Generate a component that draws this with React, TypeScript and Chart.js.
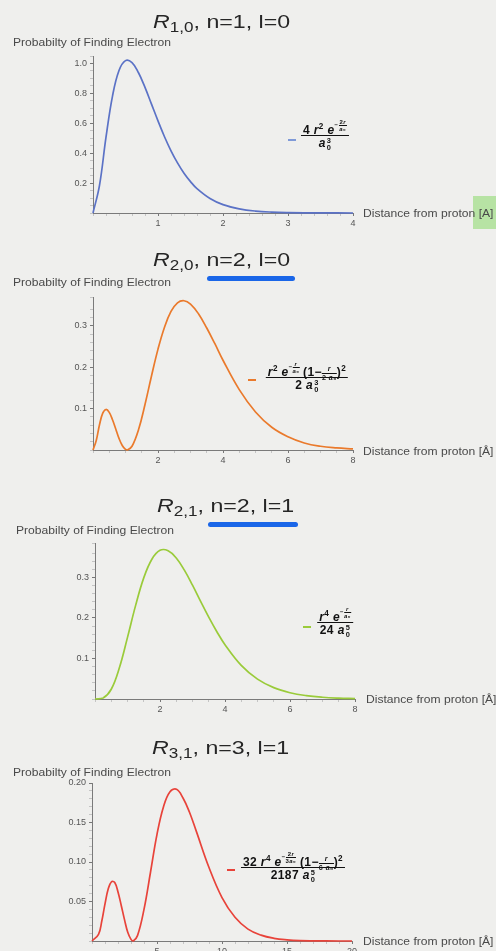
import React, { useEffect, useRef } from 'react';
import { Chart, registerables } from 'chart.js';

Chart.register(...registerables);

// ---------- data ----------
const R1 = [0, 0.1, 0.2, 0.3, 0.4, 0.5, 0.6, 0.7, 0.8, 0.9, 1.0, 1.1, 1.2, 1.3, 1.4, 1.5, 1.6, 1.8, 2.0, 2.25, 2.5, 2.75, 3.0, 3.5, 4.0];
const P1 = [0, 0.185, 0.507, 0.782, 0.953, 1.019, 1.006, 0.938, 0.84, 0.728, 0.616, 0.51, 0.416, 0.335, 0.266, 0.21, 0.163, 0.097, 0.056, 0.028, 0.013, 0.006, 0.003, 0.0006, 0.0001];

const R2 = [0, 0.1, 0.2, 0.3, 0.4, 0.5, 0.6, 0.7, 0.8, 0.9, 1.0, 1.06, 1.2, 1.4, 1.6, 1.8, 2.0, 2.2, 2.4, 2.6, 2.8, 3.0, 3.25, 3.5, 3.75, 4.0, 4.5, 5.0, 5.5, 6.0, 6.5, 7.0, 7.5, 8.0];
const P2 = [0, 0.023, 0.061, 0.089, 0.098, 0.091, 0.073, 0.051, 0.028, 0.011, 0.0015, 0, 0.009, 0.049, 0.11, 0.179, 0.244, 0.297, 0.335, 0.356, 0.361, 0.353, 0.329, 0.295, 0.257, 0.217, 0.146, 0.092, 0.055, 0.032, 0.017, 0.009, 0.005, 0.0025];

const R3 = [0, 0.25, 0.5, 0.75, 1.0, 1.25, 1.5, 1.75, 2.0, 2.25, 2.5, 2.75, 3.0, 3.25, 3.5, 3.75, 4.0, 4.5, 5.0, 5.5, 6.0, 6.5, 7.0, 7.5, 8.0];
const P3 = [0, 0.0024, 0.024, 0.077, 0.152, 0.231, 0.299, 0.345, 0.367, 0.366, 0.348, 0.318, 0.281, 0.241, 0.202, 0.166, 0.134, 0.083, 0.049, 0.028, 0.0155, 0.0083, 0.0043, 0.0022, 0.0011];

const R4 = [0, 0.5, 0.75, 1.0, 1.25, 1.5, 1.75, 2.0, 2.25, 2.5, 2.75, 3.0, 3.17, 3.5, 4, 4.5, 5, 5.5, 6, 6.5, 7, 7.5, 8, 9, 10, 11, 12, 13, 14, 15, 16, 18, 20];
const P4 = [0, 0.0084, 0.025, 0.047, 0.066, 0.075, 0.074, 0.062, 0.045, 0.027, 0.011, 0.002, 0, 0.0068, 0.04, 0.087, 0.135, 0.17, 0.189, 0.192, 0.181, 0.163, 0.14, 0.093, 0.055, 0.03, 0.015, 0.0074, 0.0034, 0.0015, 0.0006, 0.0001, 0];

const X1_TICKS = [1, 2, 3, 4];
const X1_LABELS = ['1', '2', '3', '4'];
const Y1_TICKS = [0.2, 0.4, 0.6, 0.8, 1.0];
const Y1_LABELS = ['0.2', '0.4', '0.6', '0.8', '1.0'];

const X2_TICKS = [2, 4, 6, 8];
const X2_LABELS = ['2', '4', '6', '8'];
const Y2_TICKS = [0.1, 0.2, 0.3];
const Y2_LABELS = ['0.1', '0.2', '0.3'];

const X3_TICKS = [2, 4, 6, 8];
const X3_LABELS = ['2', '4', '6', '8'];
const Y3_TICKS = [0.1, 0.2, 0.3];
const Y3_LABELS = ['0.1', '0.2', '0.3'];

const X4_TICKS = [5, 10, 15, 20];
const X4_LABELS = ['5', '10', '15', '20'];
const Y4_TICKS = [0.05, 0.1, 0.15, 0.2];
const Y4_LABELS = ['0.05', '0.10', '0.15', '0.20'];

const SUBSCRIPTS = ['1,0', '2,0', '2,1', '3,1'];
const QUANTUM = [', n=1, l=0', ', n=2, l=0', ', n=2, l=1', ', n=3, l=1'];
const Y_TITLE = 'Probabilty of Finding Electron';
const X_TITLES = ['Distance from proton [A]', 'Distance from proton [Å]', 'Distance from proton [Å]', 'Distance from proton [Å]'];

// ---------- layout ----------
const SANS = '"Liberation Sans", Arial, Helvetica, sans-serif';

type Spec = {
  top: number; h: number; yAxisW: number; padRight: number; padTop: number; xAxisH: number;
  xMax: number; yMax: number; xMinor: number; yMinor: number; color: string;
  r: number[]; p: number[]; xt: number[]; xl: string[]; yt: number[]; yl: string[];
};

const SPECS: Spec[] = [
  { top: 0, h: 240, yAxisW: 93, padRight: 143, padTop: 56, xAxisH: 27, xMax: 4, yMax: 1.05, xMinor: 0.2, yMinor: 0.05, color: '#5b72c6', r: R1, p: P1, xt: X1_TICKS, xl: X1_LABELS, yt: Y1_TICKS, yl: Y1_LABELS },
  { top: 240, h: 240, yAxisW: 93, padRight: 143, padTop: 57, xAxisH: 30, xMax: 8, yMax: 0.37, xMinor: 0.5, yMinor: 0.02, color: '#ea7a2c', r: R2, p: P2, xt: X2_TICKS, xl: X2_LABELS, yt: Y2_TICKS, yl: Y2_LABELS },
  { top: 480, h: 240, yAxisW: 95, padRight: 141, padTop: 63, xAxisH: 21, xMax: 8, yMax: 0.385, xMinor: 0.5, yMinor: 0.02, color: '#9acb3a', r: R3, p: P3, xt: X3_TICKS, xl: X3_LABELS, yt: Y3_TICKS, yl: Y3_LABELS },
  { top: 720, h: 231, yAxisW: 92, padRight: 144, padTop: 63, xAxisH: 10, xMax: 20, yMax: 0.2, xMinor: 1, yMinor: 0.01, color: '#e8433a', r: R4, p: P4, xt: X4_TICKS, xl: X4_LABELS, yt: Y4_TICKS, yl: Y4_LABELS },
];

const find = (v: number, ticks: number[]) => ticks.findIndex((t) => Math.abs(t - v) < 1e-7);

function makeConfig(s: Spec): any {
  const tickFont = { family: SANS, size: 9 };
  return {
    type: 'line',
    data: {
      datasets: [{
        data: s.r.map((x, i) => ({ x, y: s.p[i] })),
        borderColor: s.color,
        borderWidth: 1.7,
        pointRadius: 0,
        tension: 0.4,
        fill: false,
        clip: 3,
      }],
    },
    options: {
      animation: false,
      responsive: false,
      maintainAspectRatio: false,
      layout: { padding: { left: 0, right: s.padRight, top: s.padTop, bottom: 0 } },
      plugins: { legend: { display: false }, tooltip: { enabled: false }, title: { display: false } },
      scales: {
        x: {
          type: 'linear', min: 0, max: s.xMax,
          afterFit: (sc: any) => { sc.height = s.xAxisH; },
          ticks: {
            stepSize: s.xMinor, autoSkip: false, maxRotation: 0, padding: 2,
            font: tickFont, color: '#555',
            callback: (v: number) => { const i = find(v, s.xt); return i >= 0 ? s.xl[i] : ''; },
          },
          grid: {
            drawOnChartArea: false, drawTicks: true, tickLength: 3,
            color: (ctx: any) => (ctx.tick && find(ctx.tick.value, s.xt) >= 0 ? '#777' : '#c4c4c4'),
          },
          border: { display: true, color: '#7a7a7a', width: 1 },
        },
        y: {
          type: 'linear', min: 0, max: s.yMax,
          afterFit: (sc: any) => { sc.width = s.yAxisW; },
          ticks: {
            stepSize: s.yMinor, autoSkip: false, padding: 3,
            font: tickFont, color: '#555',
            callback: (v: number) => { const i = find(v, s.yt); return i >= 0 ? s.yl[i] : ''; },
          },
          grid: {
            drawOnChartArea: false, drawTicks: true, tickLength: 3,
            color: (ctx: any) => (ctx.tick && find(ctx.tick.value, s.yt) >= 0 ? '#777' : '#c4c4c4'),
          },
          border: { display: true, color: '#7a7a7a', width: 1 },
        },
      },
    },
  };
}

function PanelChart({ spec }: { spec: Spec }) {
  const ref = useRef<HTMLCanvasElement>(null);
  useEffect(() => {
    const chart = new Chart(ref.current as HTMLCanvasElement, makeConfig(spec));
    return () => chart.destroy();
  }, [spec]);
  return (
    <canvas
      ref={ref}
      width={496}
      height={spec.h}
      style={{ position: 'absolute', left: 0, top: spec.top, width: 496, height: spec.h }}
    />
  );
}

// ---------- math helpers ----------
const Sup = ({ children }: any) => (
  <span style={{ fontSize: '0.68em', verticalAlign: '0.55em', lineHeight: 0 }}>{children}</span>
);
const SubSup = ({ sup, sub }: any) => (
  <span style={{ display: 'inline-block', fontSize: '0.62em', lineHeight: '0.95em', verticalAlign: '-0.4em', textAlign: 'left', marginLeft: 1 }}>
    {sup}<br />{sub}
  </span>
);
const TinyFrac = ({ n, d }: any) => (
  <span style={{ display: 'inline-block', textAlign: 'center', lineHeight: '1em', verticalAlign: 'middle' }}>
    <span style={{ display: 'block', borderBottom: '0.6px solid #111', padding: '0 1px' }}>{n}</span>
    <span style={{ display: 'block' }}>{d}</span>
  </span>
);
const Exp = ({ children }: any) => (
  <span style={{ fontSize: '0.5em', verticalAlign: '1.1em', lineHeight: 0 }}>{children}</span>
);
const InFrac = ({ n, d }: any) => (
  <span style={{ fontSize: '0.6em', lineHeight: 0, display: 'inline-block', verticalAlign: '0.1em' }}>
    <TinyFrac n={n} d={d} />
  </span>
);

function Legend({ cx, barY, dashX, dashY, color, num, den }: any) {
  return (
    <>
      <div style={{ position: 'absolute', left: dashX, top: dashY - 1, width: 8, height: 2, background: color }} />
      <div
        style={{
          position: 'absolute', left: cx, top: barY - 16, transform: 'translateX(-50%)',
          font: `bold 12px ${SANS}`, color: '#111', textAlign: 'center', letterSpacing: 0.4,
        }}
      >
        <div style={{ height: 16, lineHeight: '18px', whiteSpace: 'nowrap', padding: '0 2px' }}>{num}</div>
        <div style={{ height: 0, borderTop: '1.3px solid #111' }} />
        <div style={{ height: 15, lineHeight: '15px', whiteSpace: 'nowrap' }}>{den}</div>
      </div>
    </>
  );
}

const I = ({ children }: any) => <i>{children}</i>;

const LEGENDS = [
  {
    cx: 325, barY: 135, dashX: 288, dashY: 140, color: '#7f9ad8',
    num: <>4 <I>r</I><Sup>2</Sup> <I>e</I><Exp>−<TinyFrac n={<>2<I>r</I></>} d={<><I>a</I>₀</>} /></Exp></>,
    den: <><I>a</I><SubSup sup="3" sub="0" /></>,
  },
  {
    cx: 307, barY: 377, dashX: 248, dashY: 380, color: '#ea7a2c',
    num: <><I>r</I><Sup>2</Sup> <I>e</I><Exp>−<TinyFrac n={<I>r</I>} d={<><I>a</I>₀</>} /></Exp> (1−<InFrac n={<I>r</I>} d={<>2 <I>a</I>₀</>} />)<Sup>2</Sup></>,
    den: <>2 <I>a</I><SubSup sup="3" sub="0" /></>,
  },
  {
    cx: 335, barY: 622, dashX: 303, dashY: 627, color: '#9acb3a',
    num: <><I>r</I><Sup>4</Sup> <I>e</I><Exp>−<TinyFrac n={<I>r</I>} d={<><I>a</I>₀</>} /></Exp></>,
    den: <>24 <I>a</I><SubSup sup="5" sub="0" /></>,
  },
  {
    cx: 293, barY: 867, dashX: 227, dashY: 870, color: '#e8433a',
    num: <>32 <I>r</I><Sup>4</Sup> <I>e</I><Exp>−<TinyFrac n={<>2<I>r</I></>} d={<>3<I>a</I>₀</>} /></Exp> (1−<InFrac n={<I>r</I>} d={<>6 <I>a</I>₀</>} />)<Sup>2</Sup></>,
    den: <>2187 <I>a</I><SubSup sup="5" sub="0" /></>,
  },
];

const TITLE_POS = [
  { left: 153, base: 29 },
  { left: 153, base: 267 },
  { left: 157, base: 513 },
  { left: 152, base: 755 },
];
const YLABEL_POS = [
  { left: 13, cy: 42 },
  { left: 13, cy: 282 },
  { left: 16, cy: 530 },
  { left: 13, cy: 772 },
];
const XLABEL_POS = [
  { left: 363, cy: 213 },
  { left: 363, cy: 451 },
  { left: 366, cy: 699 },
  { left: 363, cy: 941 },
];

export default function App() {
  return (
    <div
      style={{
        position: 'absolute', left: 0, top: 0, width: 496, height: 951, overflow: 'hidden',
        background: '#efefed', fontFamily: SANS,
      }}
    >
      {/* highlight behind [A] */}
      <div style={{ position: 'absolute', left: 473, top: 196, width: 23, height: 33, background: '#b7e3a4' }} />
      {/* blue marker underlines */}
      <div style={{ position: 'absolute', left: 207, top: 276, width: 88, height: 5, borderRadius: 3, background: '#1a66e8' }} />
      <div style={{ position: 'absolute', left: 208, top: 522, width: 90, height: 5, borderRadius: 3, background: '#1a66e8' }} />

      {SPECS.map((s, i) => <PanelChart key={i} spec={s} />)}

      {TITLE_POS.map((t, i) => (
        <div
          key={'t' + i}
          style={{
            position: 'absolute', left: t.left, top: t.base - 17, font: `19px ${SANS}`, lineHeight: '20px',
            color: '#262626', whiteSpace: 'nowrap', transform: 'scaleX(1.22)', transformOrigin: 'left top',
          }}
        >
          <i>R</i>
          <span style={{ fontSize: 14, verticalAlign: -4, lineHeight: 0 }}>{SUBSCRIPTS[i]}</span>
          {QUANTUM[i]}
        </div>
      ))}

      {YLABEL_POS.map((p, i) => (
        <div
          key={'y' + i}
          style={{
            position: 'absolute', left: p.left, top: p.cy - 7, font: `11px ${SANS}`, lineHeight: '14px',
            color: '#4a4a4a', whiteSpace: 'nowrap', transform: 'scaleX(1.1)', transformOrigin: 'left top',
          }}
        >
          {Y_TITLE}
        </div>
      ))}

      {XLABEL_POS.map((p, i) => (
        <div
          key={'x' + i}
          style={{
            position: 'absolute', left: p.left, top: p.cy - 7, font: `11px ${SANS}`, lineHeight: '14px',
            color: '#4a4a4a', whiteSpace: 'nowrap', transform: 'scaleX(1.1)', transformOrigin: 'left top',
          }}
        >
          {X_TITLES[i]}
        </div>
      ))}

      {LEGENDS.map((l, i) => <Legend key={'l' + i} {...l} />)}
    </div>
  );
}
